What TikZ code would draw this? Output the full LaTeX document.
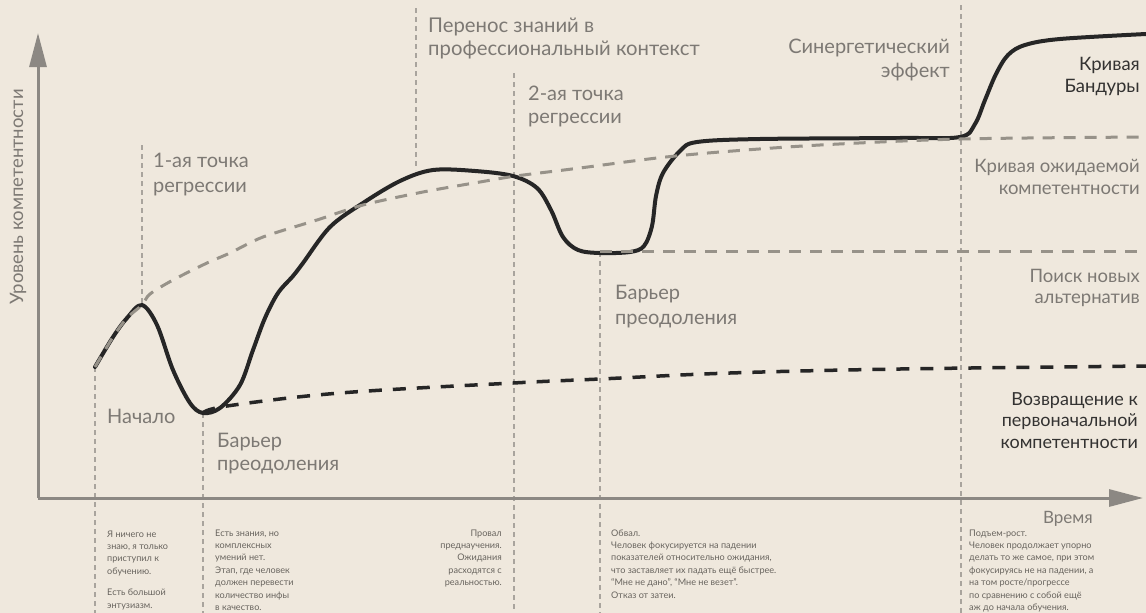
\documentclass[tikz,border=0pt]{standalone}
\usepackage{fontspec}
\setmainfont{Lato}
\usetikzlibrary{arrows.meta}
\definecolor{bg}{HTML}{EFE8DD}
\definecolor{lblc}{HTML}{7D7974}
\definecolor{ink}{HTML}{262626}
\definecolor{inktxt}{HTML}{333231}
\definecolor{axisc}{HTML}{8C8883}
\definecolor{expc}{HTML}{979289}
\definecolor{vlinec}{HTML}{A9A49D}
\definecolor{smallc}{HTML}{68645E}
\tikzset{
  biglbl/.style={text=lblc, font=\fontsize{20}{24}\selectfont, inner sep=0pt, align=left, anchor=base west},
  rlbl/.style={text=lblc, font=\fontsize{18.5}{22}\selectfont, inner sep=0pt, align=right, anchor=base east},
  inklbl/.style={rlbl, text=inktxt},
  smalltxt/.style={text=smallc, font=\fontsize{9.1}{12.4}\selectfont, inner sep=0pt, align=left, anchor=base west},
  axisline/.style={draw=axisc, line width=3pt, -{Triangle[length=34pt,width=17pt]}},
  guide/.style={draw=vlinec, line width=1.2pt, dash pattern=on 5pt off 4pt},
  bandura/.style={draw=ink, line width=4pt, line cap=round, line join=round},
  expect/.style={draw=expc, line width=3pt, dash pattern=on 12pt off 9pt},
  returnline/.style={draw=ink, line width=3.5pt, dash pattern=on 13pt off 11pt},
}
\begin{document}
\begin{tikzpicture}[x=1pt,y=-1pt]
\useasboundingbox (0,0) rectangle (1146,613);
\fill[bg] (0,0) rectangle (1146,613);

% guide lines
\coordinate (g1a) at (95,367);  \coordinate (g1b) at (95,613);
\coordinate (g2a) at (142,145); \coordinate (g2b) at (142,305);
\coordinate (g3a) at (203,413); \coordinate (g3b) at (203,613);
\coordinate (g4a) at (416,8);   \coordinate (g4b) at (416,170);
\coordinate (g5a) at (514,73);  \coordinate (g5b) at (514,613);
\coordinate (g6a) at (600,252); \coordinate (g6b) at (600,613);
\coordinate (g7a) at (961,5);   \coordinate (g7b) at (961,613);
\foreach \i in {1,...,7} \draw[guide] (g\i a) -- (g\i b);

% axes
\coordinate (O) at (38,498);
\coordinate (ytip) at (38,33);
\coordinate (xtip) at (1143,498);
\draw[axisline] (O) -- (ytip);
\draw[axisline] (O) -- (xtip);

% return line
\draw[returnline] plot[smooth, tension=0.6] coordinates {(203,413) (227,406) (340,393) (513,383) (600,379) (730,373) (900,369) (1146,366)};

% Bandura curve
\draw[bandura] plot[smooth, tension=0.55] coordinates {
(95,367) (113,337) (127,318) (142,305) (157,325) (173,370) (190,403) (203,413) (220,408)
(240,385) (253,350) (265,318) (278,293) (293,276) (303,263) (330,227) (363,203) (400,181)
(433,170) (475,171) (513,176) (537,188) (551,210) (563,237) (578,250) (600,253) (630,252)
(644,246) (652,226) (656,196) (663,173) (680,151) (697,142) (760,139) (900,138) (960,137)
(975,124) (985,100) (996,74) (1008,55) (1025,45) (1060,39) (1146,34)};

% expected competence
\draw[expect] plot[smooth, tension=0.5] coordinates {
(95,367) (113,337) (127,318) (142,305) (150,294) (173,280) (207,263) (230,253) (263,237)
(317,220) (363,205) (423,192) (480,182) (516,176) (580,168) (657,158) (720,152) (820,145)
(960,139) (1146,137)};

% search alternatives
\coordinate (s1) at (600,251);
\coordinate (s2) at (1146,251);
\draw[expect] (s1) -- (s2);

% labels (anchor = baseline of the last line)
\node[biglbl, font=\fontsize{20}{25}\selectfont] (l1) at (153,192) {1-ая точка\\регрессии};
\node[biglbl] (l2) at (107,423) {Начало};
\node[biglbl, font=\fontsize{20}{23}\selectfont] (l3) at (217,470) {Барьер\\преодоления};
\node[biglbl, font=\fontsize{20.3}{23}\selectfont] (l4) at (428,55) {Перенос знаний в\\профессиональный контекст};
\node[biglbl, font=\fontsize{20}{23}\selectfont] (l5) at (528,123) {2-ая точка\\регрессии};
\node[biglbl, font=\fontsize{20}{25}\selectfont] (l6) at (615,324) {Барьер\\преодоления};
\node[rlbl, font=\fontsize{20}{24}\selectfont] (l7) at (950,77) {Синергетический\\эффект};
\node[inklbl] (l8) at (1140,92) {Кривая\\Бандуры};
\node[rlbl] (l9) at (1140,194) {Кривая ожидаемой\\компетентности};
\node[rlbl, font=\fontsize{18.5}{21}\selectfont] (l10) at (1140,303) {Поиск новых\\альтернатив};
\node[inklbl, font=\fontsize{18}{21.5}\selectfont] (l11) at (1138,448) {Возвращение к\\первоначальной\\компетентности};
\node[rlbl, font=\fontsize{17}{20}\selectfont] (l12) at (1093,523) {Время};
\node[text=lblc, font=\fontsize{18.5}{20}\selectfont, inner sep=0pt, rotate=90] (ylab) at (18,197) {Уровень компетентности};

% bottom notes (anchor = baseline of the last line)
\node[smalltxt] (n1) at (107,608) {Я ничего не\\знаю, я только\\приступил к\\обучению.\\[9pt]Есть большой\\энтузиазм.};
\node[smalltxt] (n2) at (215,610.4) {Есть знания, но\\комплексных\\умений нет.\\Этап, где человек\\должен перевести\\количество инфы\\в качество.};
\node[smalltxt, align=right, anchor=base east] (n3) at (502,585.6) {Провал\\преднаучения.\\Ожидания\\расходятся с\\реальностью.};
\node[smalltxt] (n4) at (611,598) {Обвал.\\Человек фокусируется на падении\\показателей относительно ожидания,\\что заставляет их падать ещё быстрее.\\“Мне не дано”, “Мне не везет”.\\Отказ от затеи.};
\node[smalltxt] (n5) at (969,610.4) {Подъем-рост.\\Человек продолжает упорно\\делать то же самое, при этом\\фокусируясь не на падении, а\\на том росте/прогрессе\\по сравнению с собой ещё\\аж до начала обучения.};
\end{tikzpicture}
\end{document}
